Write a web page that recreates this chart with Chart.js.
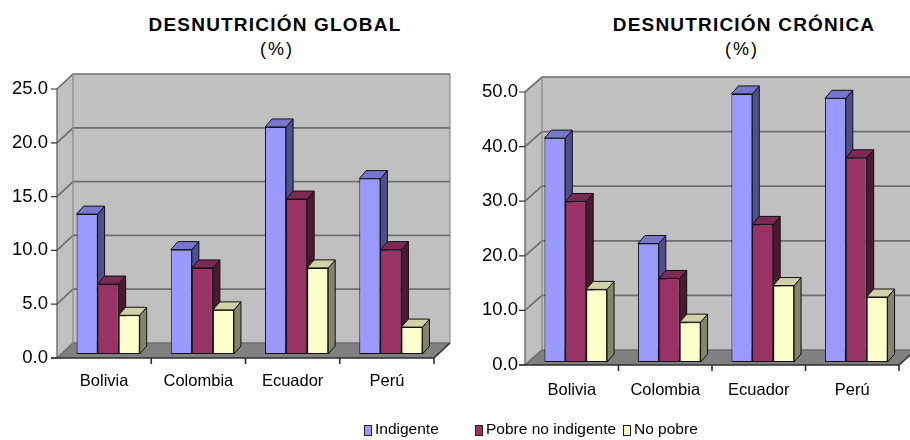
<!DOCTYPE html>
<html>
<head>
<meta charset="utf-8">
<script src="https://cdn.jsdelivr.net/npm/chart.js@4.4.1/dist/chart.umd.min.js"></script>
<style>
  body { margin: 0; width: 910px; height: 440px; background: #fff; overflow: hidden; position: relative;
         font-family: "Liberation Sans", Arial, sans-serif; color: #000; }
  canvas { position: absolute; top: 0; }
  #cGlobal { left: 0; }
  #cCronica { left: 460px; }
  .title { position: absolute; top: 15px; font-weight: bold; font-size: 19px; line-height: 19px;
           letter-spacing: 1.2px; white-space: nowrap; transform: translateX(-50%); }
  .unit { position: absolute; top: 40px; font-size: 18px; line-height: 18px; letter-spacing: 2px;
          white-space: nowrap; transform: translateX(-50%); }
  .lg-box { position: absolute; top: 425px; width: 6px; height: 9px; border: 1px solid #222; }
  .lg-txt { position: absolute; top: 421px; font-size: 15.5px; line-height: 16px; white-space: nowrap; }
</style>
</head>
<body>
<div class="title" style="left:275px">DESNUTRICIÓN GLOBAL</div>
<div class="unit" style="left:277px">(%)</div>
<div class="title" style="left:744px">DESNUTRICIÓN CRÓNICA</div>
<div class="unit" style="left:742px">(%)</div>

<canvas id="cGlobal" width="460" height="440"></canvas>
<canvas id="cCronica" width="450" height="440"></canvas>

<div id="legend"></div>

<script>
// Categories and series
const categories = ['Bolivia', 'Colombia', 'Ecuador', 'Perú'];
const seriesNames = ['Indigente', 'Pobre no indigente', 'No pobre'];

// Desnutrición global (%)
const globalIndigente = [13.0, 9.7, 21.1, 16.3];
const globalPobre     = [6.5, 8.0, 14.4, 9.7];
const globalNoPobre   = [3.6, 4.1, 8.0, 2.5];

// Desnutrición crónica (%)
const cronicaIndigente = [41.0, 21.7, 49.1, 48.3];
const cronicaPobre     = [29.4, 15.3, 25.2, 37.4];
const cronicaNoPobre   = [13.3, 7.3, 14.0, 11.9];

// Value axis ticks
const globalTicks  = [0, 5, 10, 15, 20, 25];
const cronicaTicks = [0, 10, 20, 30, 40, 50];

// Face colours for each series: front, side, top
const faceColors = [
  { front: '#9999FF', side: '#4F4F8E', top: '#7676CF' },
  { front: '#993366', side: '#4C1932', top: '#7B2A53' },
  { front: '#FFFFCC', side: '#84846A', top: '#D2D2A8' }
];

Chart.defaults.font.family = '"Liberation Sans", Arial, sans-serif';
Chart.defaults.color = '#000';

// Draws the box (side wall, back wall, floor) and the depth faces of the bars.
const box3d = {
  id: 'box3d',
  beforeDatasetsDraw(chart, args, opts) {
    const { ctx, chartArea: a, scales: { x, y } } = chart;
    const [wx, wy] = opts.wall;
    const [px, py] = opts.plane;
    const [dx, dy] = opts.depth;
    const ticks = y.ticks.map(t => t.value);

    ctx.save();
    // back wall
    ctx.fillStyle = '#C0C0C0';
    ctx.fillRect(a.left + wx, a.top - wy, a.right - a.left, a.bottom - a.top);
    // side wall
    ctx.beginPath();
    ctx.moveTo(a.left, a.top);
    ctx.lineTo(a.left + wx, a.top - wy);
    ctx.lineTo(a.left + wx, a.bottom - wy);
    ctx.lineTo(a.left, a.bottom);
    ctx.closePath();
    ctx.fill();
    // floor
    ctx.fillStyle = '#808080';
    ctx.beginPath();
    ctx.moveTo(a.left, a.bottom);
    ctx.lineTo(a.right, a.bottom);
    ctx.lineTo(a.right + wx, a.bottom - wy);
    ctx.lineTo(a.left + wx, a.bottom - wy);
    ctx.closePath();
    ctx.fill();

    // grid lines across side and back walls
    ctx.strokeStyle = '#6e6e6e';
    ctx.lineWidth = 1.7;
    ticks.forEach(v => {
      const yy = y.getPixelForValue(v);
      ctx.beginPath();
      ctx.moveTo(a.left, yy);
      ctx.lineTo(a.left + wx, yy - wy);
      ctx.lineTo(a.right + wx, yy - wy);
      ctx.stroke();
    });
    // wall corner edges
    ctx.lineWidth = 1.2;
    ctx.strokeStyle = '#8a8a8a';
    ctx.beginPath();
    ctx.moveTo(a.left + wx, a.top - wy);
    ctx.lineTo(a.left + wx, a.bottom - wy);
    ctx.moveTo(a.right + wx, a.top - wy);
    ctx.lineTo(a.right + wx, a.bottom - wy);
    ctx.stroke();

    // value axis with tick marks
    ctx.strokeStyle = '#6a6a6a';
    ctx.lineWidth = 1.4;
    ctx.beginPath();
    ctx.moveTo(a.left, a.top);
    ctx.lineTo(a.left, a.bottom);
    ctx.stroke();
    ctx.strokeStyle = '#333';
    ctx.lineWidth = 1.2;
    ctx.beginPath();
    ticks.forEach(v => {
      const yy = y.getPixelForValue(v);
      ctx.moveTo(a.left - 6, yy);
      ctx.lineTo(a.left, yy);
    });
    ctx.stroke();

    // floor front edge and category dividers
    ctx.strokeStyle = '#2e2e2e';
    ctx.lineWidth = 1.6;
    ctx.beginPath();
    ctx.moveTo(a.left - 6, a.bottom);
    ctx.lineTo(a.right, a.bottom);
    ctx.lineTo(a.right + wx, a.bottom - wy);
    const half = (x.getPixelForValue(1) - x.getPixelForValue(0)) / 2;
    categories.forEach((c, i) => {
      const xx = x.getPixelForValue(i) + half;
      ctx.moveTo(xx, a.bottom);
      ctx.lineTo(xx, a.bottom + 6);
    });
    ctx.stroke();
    ctx.restore();

    // bar depth faces, drawn in the bar plane; the fronts follow from Chart.js
    ctx.save();
    ctx.translate(px, -py);
    ctx.lineWidth = 1;
    ctx.strokeStyle = '#111';
    ctx.lineJoin = 'round';
    chart.data.datasets.forEach((ds, di) => {
      const meta = chart.getDatasetMeta(di);
      const col = faceColors[di];
      meta.data.forEach(el => {
        const { x: bx, y: by, base, width } = el.getProps(['x', 'y', 'base', 'width'], true);
        const l = bx - width / 2, r = bx + width / 2;
        // side
        ctx.beginPath();
        ctx.moveTo(r, by);
        ctx.lineTo(r + dx, by - dy);
        ctx.lineTo(r + dx, base - dy);
        ctx.lineTo(r, base);
        ctx.closePath();
        ctx.fillStyle = col.side;
        ctx.fill();
        ctx.stroke();
        // top
        ctx.beginPath();
        ctx.moveTo(l, by);
        ctx.lineTo(r, by);
        ctx.lineTo(r + dx, by - dy);
        ctx.lineTo(l + dx, by - dy);
        ctx.closePath();
        ctx.fillStyle = col.top;
        ctx.fill();
        ctx.stroke();
      });
    });
  },
  afterDatasetsDraw(chart) {
    chart.ctx.restore();
  }
};

function makeDatasets(values) {
  return values.map((vals, i) => ({
    label: seriesNames[i],
    data: vals,
    backgroundColor: faceColors[i].front,
    borderColor: '#111',
    borderWidth: 1,
    borderSkipped: false,
    categoryPercentage: 0.67,
    barPercentage: 1.0,
    clip: false
  }));
}

function makeChart(canvasId, values, tickValues, geom) {
  const maxV = tickValues[tickValues.length - 1];
  return new Chart(document.getElementById(canvasId), {
    type: 'bar',
    data: { labels: categories, datasets: makeDatasets(values) },
    options: {
      responsive: false,
      animation: false,
      events: [],
      layout: { padding: { top: geom.top, right: geom.right, left: 0, bottom: 0 } },
      plugins: {
        legend: { display: false },
        tooltip: { enabled: false },
        title: { display: false },
        box3d: { wall: geom.wall, plane: geom.plane, depth: geom.depth }
      },
      scales: {
        x: {
          grid: { display: false, drawTicks: false },
          border: { display: false },
          ticks: { padding: geom.xPad, font: { size: 16.5 }, color: '#000', maxRotation: 0 },
          afterFit(s) { s.height = geom.xHeight; }
        },
        y: {
          min: 0,
          max: maxV,
          grid: { display: false, drawTicks: false },
          border: { display: false },
          ticks: { padding: geom.yPad, font: { size: 18.5 }, color: '#000',
                   callback: v => Number(v).toFixed(1) },
          afterBuildTicks(s) { s.ticks = tickValues.map(v => ({ value: v })); },
          afterFit(s) { s.width = geom.yWidth; }
        }
      }
    },
    plugins: [box3d]
  });
}

makeChart('cGlobal', [globalIndigente, globalPobre, globalNoPobre], globalTicks, {
  top: 89, right: 26, yWidth: 57, xHeight: 82, xPad: 14, yPad: 9,
  wall: [16, 15], plane: [4, 4], depth: [7, 8]
});

makeChart('cCronica', [cronicaIndigente, cronicaPobre, cronicaNoPobre], cronicaTicks, {
  top: 92, right: 11, yWidth: 65, xHeight: 75, xPad: 16, yPad: 7,
  wall: [17, 15], plane: [4, 3], depth: [7, 8]
});

// Legend
const legendPos = [[364, 375], [475, 486], [623, 634]];
const legendEl = document.getElementById('legend');
seriesNames.forEach((name, i) => {
  const box = document.createElement('div');
  box.className = 'lg-box';
  box.style.left = legendPos[i][0] + 'px';
  box.style.background = faceColors[i].front;
  legendEl.appendChild(box);
  const txt = document.createElement('div');
  txt.className = 'lg-txt';
  txt.style.left = legendPos[i][1] + 'px';
  txt.textContent = name;
  legendEl.appendChild(txt);
});
</script>
</body>
</html>
